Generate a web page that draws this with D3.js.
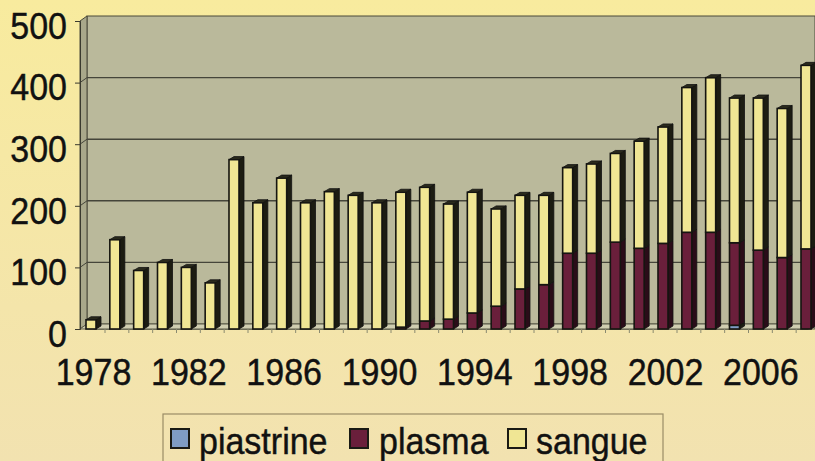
<!DOCTYPE html>
<html>
<head>
<meta charset="utf-8">
<script src="https://cdn.jsdelivr.net/npm/d3@7"></script>
<style>
  html, body { margin: 0; padding: 0; background: #f3e3aa; }
  svg { display: block; font-family: "Liberation Sans", Arial, sans-serif; }
</style>
</head>
<body>
<svg id="chart" width="815" height="461"></svg>
<script>
// data
const years = [1978, 1979, 1980, 1981, 1982, 1983, 1984, 1985, 1986, 1987, 1988,
  1989, 1990, 1991, 1992, 1993, 1994, 1995, 1996, 1997, 1998, 1999, 2000,
  2001, 2002, 2003, 2004, 2005, 2006, 2007, 2008];
const piastrine = [0, 0, 0, 0, 0, 0, 0, 0, 0, 0, 0, 0, 0, 0, 0, 0, 0, 0, 0, 0,
  0, 0, 0, 0, 0, 0, 0, 6, 0, 0, 0];
const plasma = [0, 0, 0, 0, 0, 0, 0, 0, 0, 0, 0, 0, 0, 3, 13, 16, 26, 37, 65, 72,
  123, 123, 141, 131, 139, 157, 157, 134, 128, 116, 130];
const sangue = [15, 145, 95, 108, 100, 75, 275, 205, 245, 205, 223, 217, 205, 219,
  217, 187, 196, 158, 152, 145, 139, 145, 144, 174, 189, 235, 251, 235, 247, 242, 298];
const yTicks = [0, 100, 200, 300, 400, 500];
const xTickYears = [1978, 1982, 1986, 1990, 1994, 1998, 2002, 2006];

const seriesKeys = ["piastrine", "plasma", "sangue"];
const colors = {piastrine: "#7f9cc4", plasma: "#6a1f3b", sangue: "#f0e694"};

const rows = years.map((y, i) => ({
  year: y, piastrine: piastrine[i], plasma: plasma[i], sangue: sangue[i]
}));

const svg = d3.select("#chart");
const stretch = 1.1; // the scanned text is a bit taller than it is wide

// paper background
const bg = svg.append("defs").append("linearGradient")
  .attr("id", "paper").attr("x1", 0).attr("y1", 0).attr("x2", 0).attr("y2", 1);
bg.append("stop").attr("offset", "0%").attr("stop-color", "#f8eb9e");
bg.append("stop").attr("offset", "100%").attr("stop-color", "#f2e2b0");
svg.append("rect").attr("width", 815).attr("height", 461).attr("fill", "url(#paper)");

// 3d depth of the walls
const dx = 7, dy = -5;
const x0 = 80, x1 = 815;

const y = d3.scaleLinear().domain([0, 500]).range([329, 21]);
const x = d3.scalePoint().domain(years).range([93, 808]);

const g = svg.append("g");

// back wall
g.append("rect")
  .attr("x", x0 + dx).attr("y", y(500) + dy)
  .attr("width", x1 - x0 - dx).attr("height", y(0) - y(500))
  .attr("fill", "#bab99b").attr("stroke", "#4a4a3a").attr("stroke-width", 1);

// left wall
g.append("path")
  .attr("d", `M${x0},${y(500)} L${x0 + dx},${y(500) + dy} L${x0 + dx},${y(0) + dy} L${x0},${y(0)} Z`)
  .attr("fill", "#a9a88a").attr("stroke", "#4a4a3a").attr("stroke-width", 1);

// floor
g.append("path")
  .attr("d", `M${x0},${y(0)} L${x0 + dx},${y(0) + dy} L${x1},${y(0) + dy} L${x1},${y(0)} Z`)
  .attr("fill", "#cfcdb0").attr("stroke", "#5a5a48").attr("stroke-width", 1);

// gridlines on the back wall
const inner = yTicks.filter(d => d > 0 && d < 500);
g.selectAll(".grid").data(inner).enter()
  .append("line")
  .attr("x1", x0 + dx).attr("x2", x1)
  .attr("y1", d => y(d) + dy).attr("y2", d => y(d) + dy)
  .attr("stroke", "#45453a").attr("stroke-width", 1.4);
g.selectAll(".grid2").data(inner).enter()
  .append("line")
  .attr("x1", x0).attr("x2", x0 + dx)
  .attr("y1", d => y(d)).attr("y2", d => y(d) + dy)
  .attr("stroke", "#45453a").attr("stroke-width", 1);

// y axis
const yAxis = g.append("g").attr("transform", `translate(${x0},0)`)
  .call(d3.axisLeft(y).tickValues(yTicks).tickSize(5).tickFormat(d3.format("d")));
yAxis.select(".domain").attr("stroke", "#3a3a2e");
yAxis.selectAll(".tick line").attr("stroke", "#3a3a2e");
yAxis.selectAll(".tick text")
  .attr("x", -13).attr("dy", "0.46em")
  .attr("transform", `scale(1,${stretch})`)
  .attr("font-size", 34).attr("fill", "#111")
  .attr("stroke", "#111").attr("stroke-width", 0.4)
  .attr("font-family", "Liberation Sans, Arial, sans-serif");

// x axis
const xAxis = g.append("g").attr("transform", `translate(0,${y(0)})`)
  .call(d3.axisBottom(x).tickValues(xTickYears).tickSize(0));
xAxis.select(".domain").attr("stroke", "#6a6a55");
xAxis.selectAll(".tick text")
  .attr("y", 27).attr("dy", "0.71em")
  .attr("transform", `scale(1,${stretch})`)
  .attr("font-size", 34).attr("fill", "#111")
  .attr("stroke", "#111").attr("stroke-width", 0.4)
  .attr("font-family", "Liberation Sans, Arial, sans-serif");
g.append("g").selectAll("line").data(years).enter().append("line")
  .attr("x1", d => x(d) + 12).attr("x2", d => x(d) + 12)
  .attr("y1", y(0)).attr("y2", y(0) + 4)
  .attr("stroke", "#8a8a70").attr("stroke-width", 1);

// stacked 3d bars
const stacked = d3.stack().keys(seriesKeys)(rows);
const bw = 10, bdx = 5, bdy = -3;
const bars = g.append("g");

stacked.forEach(layer => {
  const key = layer.key;
  layer.forEach(seg => {
    if (seg[1] - seg[0] <= 0) return;
    const cx = x(seg.data.year);
    const left = cx - 7, right = left + bw;
    const top = y(seg[1]), bot = y(seg[0]);
    bars.append("path")
      .attr("d", `M${right},${bot} L${right + bdx},${bot + bdy} L${right + bdx},${top + bdy} L${right},${top} Z`)
      .attr("fill", key === "plasma" ? "#2a0c18" : "#1c1c12")
      .attr("stroke", "#111").attr("stroke-width", 0.8);
    bars.append("rect")
      .attr("x", left).attr("y", top)
      .attr("width", bw).attr("height", bot - top)
      .attr("fill", colors[key])
      .attr("stroke", "#151510").attr("stroke-width", 1.6);
  });
});

// top caps
rows.forEach((r, i) => {
  const total = piastrine[i] + plasma[i] + sangue[i];
  const cx = x(r.year);
  const left = cx - 7, right = left + bw;
  const top = y(total);
  bars.append("path")
    .attr("d", `M${left},${top} L${left + bdx},${top + bdy} L${right + bdx},${top + bdy} L${right},${top} Z`)
    .attr("fill", "#2a2a1c").attr("stroke", "#111").attr("stroke-width", 0.8);
});

// legend
const legend = svg.append("g");
legend.append("rect")
  .attr("x", 163).attr("y", 414).attr("width", 500).attr("height", 60)
  .attr("fill", "none").attr("stroke", "#9a8c66").attr("stroke-width", 1.2);
const legendItems = [
  {key: "piastrine", sx: 171, tx: 199},
  {key: "plasma", sx: 350, tx: 379},
  {key: "sangue", sx: 508, tx: 536}
];
legendItems.forEach(it => {
  legend.append("rect")
    .attr("x", it.sx).attr("y", 429).attr("width", 18).attr("height", 19)
    .attr("fill", colors[it.key]).attr("stroke", "#1a1a14").attr("stroke-width", 2);
  legend.append("text")
    .attr("transform", `translate(${it.tx},454) scale(1,${stretch})`)
    .attr("font-size", 34).attr("fill", "#111")
    .attr("stroke", "#111").attr("stroke-width", 0.4)
    .text(it.key);
});
</script>
</body>
</html>
